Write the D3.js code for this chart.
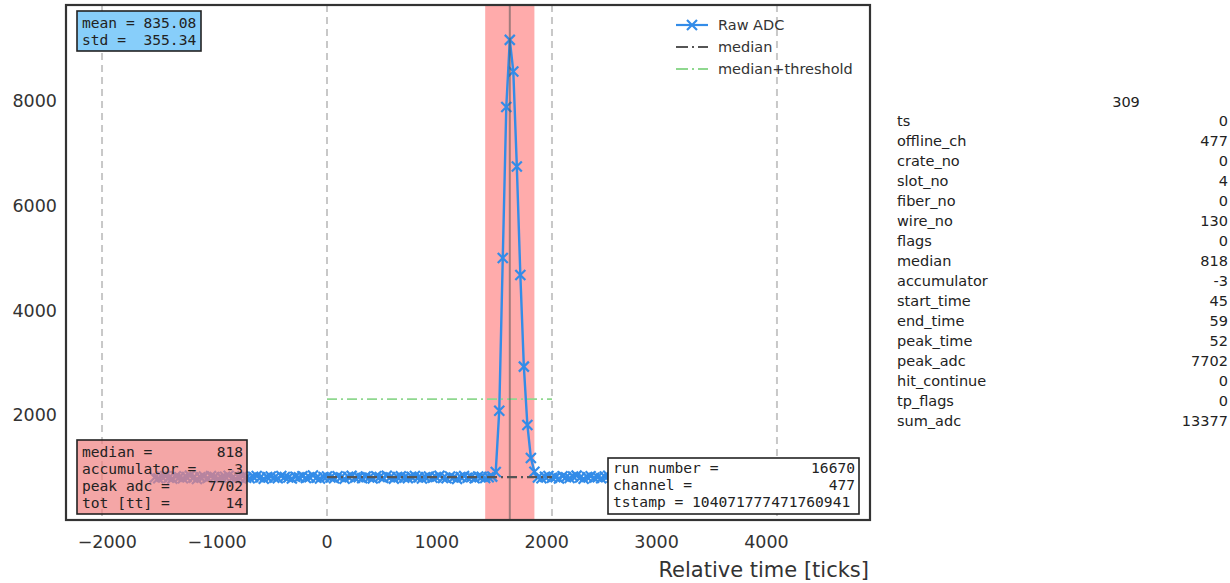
<!DOCTYPE html>
<html>
<head>
<meta charset="utf-8">
<script src="https://cdn.jsdelivr.net/npm/d3@7"></script>
<style>
  body { margin: 0; background: #fff; }
  svg text { font-family: "DejaVu Sans", sans-serif; }
  .mono { font-family: "DejaVu Sans Mono", monospace; white-space: pre; }
</style>
</head>
<body>
<div id="d3"></div>
<script>
// ---- data ----
const ticksPerSample = 32;
const firstSample = -49;
const rawAdc = [
  812, 798, 826, 841, 805, 790, 833, 818, 796, 822, 847, 809, 783, 815, 829, 801, 838, 820, 794, 811,
  827, 846, 803, 789, 817, 835, 808, 799, 824, 842, 813, 786, 819, 831, 806, 797, 840, 822, 810, 791,
  825, 814, 836, 802, 818, 849, 807, 793, 821, 830, 811, 798, 834, 816, 788, 827, 843, 805, 819, 800,
  828, 812, 795, 837, 821, 804, 846, 815, 790, 823, 833, 809, 800, 826, 839, 814, 792, 818, 831, 806,
  820, 844, 803, 796, 829, 813, 785, 822, 838, 808, 817, 799, 832, 824, 801, 815, 828,
  917, 2088, 5004, 7888, 9169, 8564, 6749, 4680, 2929, 1815, 1184, 923,
  811, 797, 826, 840, 806, 819, 793, 834, 815, 802, 829, 847, 812, 789, 823, 836, 808, 817, 798, 831,
  844, 810, 821
];
const median = 818;
const threshold = 2310;         // median + threshold level
const thresholdRange = [0, 2048];
const gridLines = [-2048, 0, 2048, 4096];
const hitSpan = [1440, 1888];   // start_time*32, end_time*32
const peakTime = 1664;
const xTicks = [-2000, -1000, 0, 1000, 2000, 3000, 4000];
const yTicks = [2000, 4000, 6000, 8000];

const statsLines = [["mean = 835.08"], ["std =  355.34"]];
const hitLines = [["median =", "818"], ["accumulator =", "-3"], ["peak adc =", "7702"], ["tot [tt] =", "14"]];
const runLines = [["run number =", "16670"], ["channel =", "477"], ["tstamp = 104071777471760941", ""]];
const tableHeader = "309";
const tableKeys = ["ts", "offline_ch", "crate_no", "slot_no", "fiber_no", "wire_no", "flags", "median",
  "accumulator", "start_time", "end_time", "peak_time", "peak_adc", "hit_continue", "tp_flags", "sum_adc"];
const tableValues = ["0", "477", "0", "4", "0", "130", "0", "818", "-3", "45", "59", "52", "7702", "0", "0", "13377"];

const points = rawAdc.map((v, i) => ({ t: (firstSample + i) * ticksPerSample, v: v }));

// ---- layout ----
const W = 1230, H = 583;
const plot = { left: 66, right: 870, top: 5, bottom: 520 };

const svg = d3.select("#d3").append("svg").attr("width", W).attr("height", H);

const x = d3.scaleLinear().domain([-2376, 4943]).range([plot.left, plot.right]);
const y = d3.scaleLinear().domain([0, 9835]).range([plot.bottom, plot.top]);

svg.append("defs").append("clipPath").attr("id", "clip")
  .append("rect")
  .attr("x", plot.left).attr("y", plot.top)
  .attr("width", plot.right - plot.left).attr("height", plot.bottom - plot.top);

const g = svg.append("g").attr("clip-path", "url(#clip)");

// vertical dashed reference lines
g.selectAll(".vgrid").data(gridLines).enter().append("line")
  .attr("x1", d => x(d)).attr("x2", d => x(d))
  .attr("y1", plot.top).attr("y2", plot.bottom)
  .attr("stroke", "#c8c8c8").attr("stroke-width", 2).attr("stroke-dasharray", "7,5");

// hit window
g.append("rect")
  .attr("x", x(hitSpan[0])).attr("width", x(hitSpan[1]) - x(hitSpan[0]))
  .attr("y", plot.top).attr("height", plot.bottom - plot.top)
  .attr("fill", "#ff0000").attr("opacity", 0.33);

// median + threshold
g.append("line")
  .attr("x1", x(thresholdRange[0])).attr("x2", x(thresholdRange[1]))
  .attr("y1", y(threshold)).attr("y2", y(threshold))
  .attr("stroke", "#8fd88f").attr("stroke-width", 1.8).attr("stroke-dasharray", "10,4,2,4");

// raw adc line + x markers
const blue = "#338ce8";
g.append("path").datum(points)
  .attr("fill", "none").attr("stroke", blue).attr("stroke-width", 2.4)
  .attr("stroke-linejoin", "round")
  .attr("d", d3.line().x(d => x(d.t)).y(d => y(d.v)));

const m = 5;
g.selectAll(".mk").data(points).enter().append("path")
  .attr("transform", d => `translate(${x(d.t)},${y(d.v)})`)
  .attr("d", `M${-m},${-m}L${m},${m}M${-m},${m}L${m},${-m}`)
  .attr("stroke", blue).attr("stroke-width", 2.2).attr("fill", "none");

// median line
g.append("line")
  .attr("x1", x(thresholdRange[0])).attr("x2", x(thresholdRange[1]))
  .attr("y1", y(median)).attr("y2", y(median))
  .attr("stroke", "#555").attr("stroke-width", 2.2).attr("stroke-dasharray", "10,4,2,4");

// peak time line
g.append("line")
  .attr("x1", x(peakTime)).attr("x2", x(peakTime))
  .attr("y1", plot.top).attr("y2", plot.bottom)
  .attr("stroke", "#555").attr("stroke-opacity", 0.55).attr("stroke-width", 2);

// frame
svg.append("rect")
  .attr("x", plot.left).attr("y", plot.top)
  .attr("width", plot.right - plot.left).attr("height", plot.bottom - plot.top)
  .attr("fill", "none").attr("stroke", "#333").attr("stroke-width", 2.2);

// tick labels
svg.selectAll(".xt").data(xTicks).enter().append("text")
  .attr("x", d => x(d)).attr("y", 548)
  .attr("text-anchor", "middle").attr("font-size", 17.5).attr("fill", "#333")
  .text(d => d < 0 ? "\u2212" + Math.abs(d) : d);

svg.selectAll(".yt").data(yTicks).enter().append("text")
  .attr("x", 57).attr("y", d => y(d) + 6)
  .attr("text-anchor", "end").attr("font-size", 17.5).attr("fill", "#333")
  .text(d => d);

svg.append("text")
  .attr("x", 869).attr("y", 577)
  .attr("text-anchor", "end").attr("font-size", 21).attr("fill", "#333")
  .text("Relative time [ticks]");

// legend
const legend = svg.append("g");
const legendItems = [
  { label: "Raw ADC", color: blue, dash: null, marker: true },
  { label: "median", color: "#555", dash: "12,4,2,4", marker: false },
  { label: "median+threshold", color: "#8fd88f", dash: "12,4,2,4", marker: false }
];
legendItems.forEach((d, i) => {
  const ly = 25 + i * 22;
  legend.append("line")
    .attr("x1", 676).attr("x2", 708).attr("y1", ly).attr("y2", ly)
    .attr("stroke", d.color).attr("stroke-width", 2.2)
    .attr("stroke-dasharray", d.dash);
  if (d.marker) {
    legend.append("path")
      .attr("transform", `translate(692,${ly})`)
      .attr("d", `M${-m},${-m}L${m},${m}M${-m},${m}L${m},${-m}`)
      .attr("stroke", d.color).attr("stroke-width", 2.2);
  }
  legend.append("text")
    .attr("x", 718).attr("y", ly + 5)
    .attr("font-size", 14.5).attr("fill", "#333").text(d.label);
});

// text boxes
function textBox(bx, by, bw, bh, fill, opacity, lines, baseline0, step) {
  const b = svg.append("g");
  b.append("rect")
    .attr("x", bx).attr("y", by).attr("width", bw).attr("height", bh)
    .attr("fill", fill).attr("fill-opacity", opacity)
    .attr("stroke", "#222").attr("stroke-width", 1.6);
  lines.forEach((l, i) => {
    b.append("text").attr("class", "mono")
      .attr("x", bx + 5).attr("y", baseline0 + i * step)
      .attr("font-size", 14.6).attr("fill", "#222").text(l[0]);
    if (l[1]) {
      b.append("text").attr("class", "mono")
        .attr("x", bx + bw - 4).attr("y", baseline0 + i * step)
        .attr("text-anchor", "end")
        .attr("font-size", 14.6).attr("fill", "#222").text(l[1]);
    }
  });
}

textBox(77, 11, 124, 40, "#87cefa", 1, statsLines, 28, 17);
textBox(77, 440, 170, 74, "#f08080", 0.7, hitLines, 457, 17);
textBox(608, 458, 251, 56, "#ffffff", 1, runLines, 473, 17);

// right-hand table
const table = svg.append("g");
table.append("text")
  .attr("x", 1126).attr("y", 107).attr("text-anchor", "middle")
  .attr("font-size", 14.5).attr("fill", "#222").text(tableHeader);
tableKeys.forEach((k, i) => {
  const ty = 126 + i * 20;
  table.append("text").attr("x", 897).attr("y", ty)
    .attr("font-size", 14.5).attr("fill", "#222").text(k);
  table.append("text").attr("x", 1228).attr("y", ty).attr("text-anchor", "end")
    .attr("font-size", 14.5).attr("fill", "#222").text(tableValues[i]);
});
</script>
</body>
</html>
